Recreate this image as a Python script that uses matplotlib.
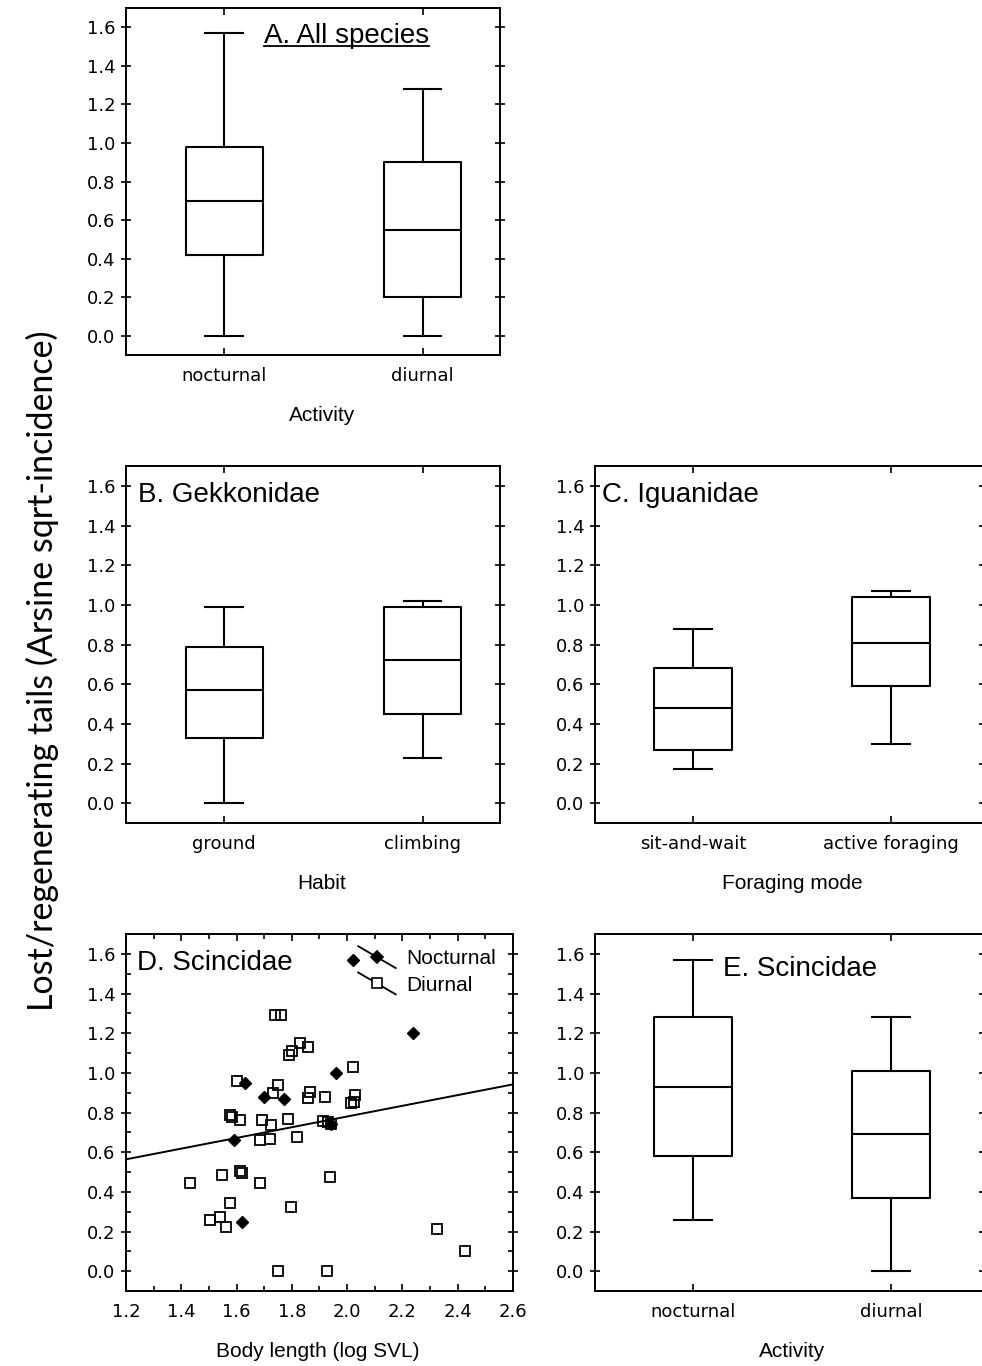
import numpy as np
import matplotlib
matplotlib.use('Agg')
import matplotlib.pyplot as plt
from matplotlib.ticker import MultipleLocator, FormatStrFormatter
from matplotlib.lines import Line2D
from matplotlib.legend_handler import HandlerLine2D

# box summaries: [whisker low, q1, median, q3, whisker high]
activity_labels = ['nocturnal', 'diurnal']
all_nocturnal = [0.0, 0.42, 0.70, 0.98, 1.57]
all_diurnal = [0.0, 0.20, 0.55, 0.90, 1.28]

habit_labels = ['ground', 'climbing']
gekko_ground = [0.0, 0.33, 0.57, 0.79, 0.99]
gekko_climbing = [0.23, 0.45, 0.72, 0.99, 1.02]

forage_labels = ['sit-and-wait', 'active foraging']
igua_sitwait = [0.17, 0.27, 0.48, 0.68, 0.88]
igua_active = [0.30, 0.59, 0.81, 1.04, 1.07]

scinc_nocturnal = [0.26, 0.58, 0.93, 1.28, 1.57]
scinc_diurnal = [0.0, 0.37, 0.69, 1.01, 1.28]

# Scincidae: body length (log SVL) vs tail loss
noc_svl = [2.02, 2.24, 1.96, 1.63, 1.70, 1.77, 1.59, 1.62, 1.94]
noc_tail = [1.57, 1.20, 1.00, 0.95, 0.88, 0.87, 0.66, 0.25, 0.74]

diu_svl = [1.74, 1.76, 1.83, 1.86, 1.80, 1.79, 2.02, 1.60, 1.75, 1.73,
           1.865, 1.86, 1.92, 2.03, 2.025, 2.015, 1.577, 1.584, 1.613, 1.693,
           1.726, 1.787, 1.911, 1.93, 1.94, 1.686, 1.72, 1.817, 1.548, 1.613,
           1.62, 1.432, 1.686, 1.937, 1.577, 1.798, 1.505, 1.541, 1.562, 1.75,
           1.926, 2.324, 2.426]
diu_tail = [1.29, 1.29, 1.15, 1.13, 1.11, 1.09, 1.03, 0.96, 0.94, 0.90,
            0.905, 0.875, 0.88, 0.89, 0.855, 0.85, 0.79, 0.78, 0.76, 0.76,
            0.737, 0.767, 0.758, 0.753, 0.742, 0.662, 0.667, 0.677, 0.485, 0.505,
            0.495, 0.444, 0.444, 0.475, 0.343, 0.325, 0.258, 0.274, 0.224, 0.0,
            0.0, 0.212, 0.101]

fit_intercept = 0.24
fit_slope = 0.27

LAB_FONT = 'Liberation Sans'


def summ(v):
    return dict(whislo=v[0], q1=v[1], med=v[2], q3=v[3], whishi=v[4], fliers=[])


def style_axes(ax):
    for s in ax.spines.values():
        s.set_linewidth(1.4)
    ax.tick_params(axis='both', which='both', labelsize=13, top=True, right=True, width=1.2)
    ax.tick_params(axis='y', which='major', direction='inout', length=7, pad=4)
    ax.tick_params(axis='x', which='major', direction='in', length=5, pad=8.5)
    ax.set_ylim(-0.1, 1.7)
    ax.yaxis.set_major_locator(MultipleLocator(0.2))
    ax.yaxis.set_major_formatter(FormatStrFormatter('%.1f'))


def box_panel(ax, a, b, labels, xlabel, xlim, label_x):
    lp = dict(color='black', lw=1.5)
    ax.bxp([summ(a), summ(b)], positions=[1, 2], widths=0.39, capwidths=0.19,
           showfliers=False, boxprops=lp, whiskerprops=lp, capprops=lp,
           medianprops=lp)
    style_axes(ax)
    ax.set_xlim(*xlim)
    ax.set_xticks([1, 2], labels)
    ax.set_xlabel(xlabel, family=LAB_FONT, fontsize=15, labelpad=15)
    ax.xaxis.label.set_x(label_x)


class SlantHandler(HandlerLine2D):
    def create_artists(self, legend, orig_handle, xdescent, ydescent,
                       width, height, fontsize, trans):
        x0 = -xdescent
        y0 = -ydescent
        line = Line2D([x0, x0 + width], [y0 + height * 1.25, y0 - height * 0.25],
                      color='black', lw=1.3)
        mark = Line2D([x0 + width * 0.5], [y0 + height * 0.5],
                      marker=orig_handle.get_marker(),
                      markersize=orig_handle.get_markersize(),
                      markerfacecolor=orig_handle.get_markerfacecolor(),
                      markeredgecolor='black', markeredgewidth=1.2,
                      linestyle='none')
        line.set_transform(trans)
        mark.set_transform(trans)
        return [line, mark]


fig = plt.figure(figsize=(9.82, 13.66), dpi=100)

axA = fig.add_axes([0.1283, 0.7401, 0.3809, 0.2540])
axB = fig.add_axes([0.1283, 0.3975, 0.3809, 0.2613])
axC = fig.add_axes([0.6059, 0.3975, 0.3961, 0.2613])
axD = fig.add_axes([0.1283, 0.0549, 0.3941, 0.2613])
axE = fig.add_axes([0.6059, 0.0549, 0.3961, 0.2613])

box_panel(axA, all_nocturnal, all_diurnal, activity_labels, 'Activity', (0.505, 2.39), 0.524)
box_panel(axB, gekko_ground, gekko_climbing, habit_labels, 'Habit', (0.505, 2.39), 0.524)
box_panel(axC, igua_sitwait, igua_active, forage_labels, 'Foraging mode', (0.505, 2.47), 0.506)
box_panel(axE, scinc_nocturnal, scinc_diurnal, activity_labels, 'Activity', (0.505, 2.47), 0.506)

# scatter panel
axD.plot(diu_svl, diu_tail, linestyle='none', marker='s', ms=7.5, mfc='none',
         mec='black', mew=1.3)
axD.plot(noc_svl, noc_tail, linestyle='none', marker='D', ms=6.2, mfc='black',
         mec='black')
xs = np.array([1.2, 2.6])
axD.plot(xs, fit_intercept + fit_slope * xs, color='black', lw=1.4)
style_axes(axD)
axD.set_xlim(1.2, 2.6)
axD.xaxis.set_major_locator(MultipleLocator(0.2))
axD.xaxis.set_major_formatter(FormatStrFormatter('%.1f'))
axD.xaxis.set_minor_locator(MultipleLocator(0.1))
axD.yaxis.set_minor_locator(MultipleLocator(0.1))
axD.tick_params(which='minor', direction='in', length=3.5)
axD.set_xlabel('Body length (log SVL)', family=LAB_FONT, fontsize=15, labelpad=15)
axD.xaxis.label.set_x(0.496)

h_noc = Line2D([], [], marker='D', ms=6.2, mfc='black', color='black')
h_diu = Line2D([], [], marker='s', ms=7.5, mfc='white', color='black')
leg = axD.legend([h_noc, h_diu], ['Nocturnal', 'Diurnal'],
                 handler_map={h_noc: SlantHandler(), h_diu: SlantHandler()},
                 loc='upper left', bbox_to_anchor=(0.6, 0.957), frameon=False,
                 borderpad=0, borderaxespad=0, handlelength=1.8, handletextpad=0.5,
                 labelspacing=0.35, prop=dict(family=LAB_FONT, size=15))

# panel titles
tk = dict(family=LAB_FONT, fontsize=20, va='baseline', ha='left')
tA = axA.text(0.369, 0.898, 'A. All species', transform=axA.transAxes, **tk)
axB.text(0.032, 0.900, 'B. Gekkonidae', transform=axB.transAxes, **tk)
axC.text(0.018, 0.900, 'C. Iguanidae', transform=axC.transAxes, **tk)
axD.text(0.028, 0.900, 'D. Scincidae', transform=axD.transAxes, **tk)
axE.text(0.329, 0.883, 'E. Scincidae', transform=axE.transAxes, **tk)

# underline panel A title
fig.canvas.draw()
bb = tA.get_window_extent(fig.canvas.get_renderer())
inv = fig.transFigure.inverted()
(x0, y0), (x1, y1) = inv.transform([(bb.x0, bb.y0 + 3), (bb.x1, bb.y0 + 3)])
fig.add_artist(Line2D([x0, x1], [y0, y1], color='black', lw=1.3,
                      transform=fig.transFigure))

fig.text(0.043, 0.509, 'Lost/regenerating tails (Arsine sqrt-incidence)',
         rotation=90, ha='center', va='center', family='Lato', fontsize=24.5)

fig.savefig('out.png', dpi=100)
